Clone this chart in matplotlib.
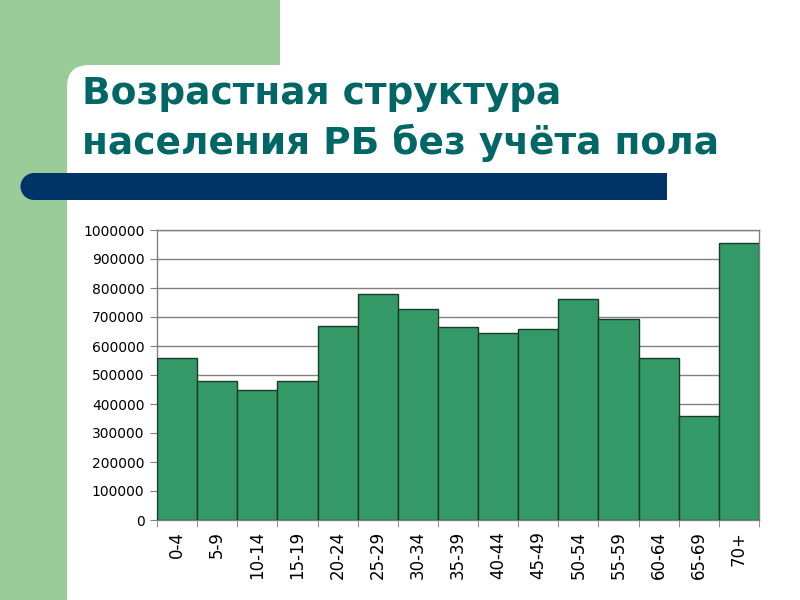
import numpy as np
import matplotlib
matplotlib.use('Agg')
import matplotlib.pyplot as plt
from matplotlib.patches import Rectangle, Circle, FancyBboxPatch

# Data
ages = ['0-4', '5-9', '10-14', '15-19', '20-24', '25-29', '30-34', '35-39',
        '40-44', '45-49', '50-54', '55-59', '60-64', '65-69', '70+']
population = [560000, 478000, 447000, 478000, 669000, 780000, 727000, 665000,
              645000, 659000, 761000, 694000, 559000, 358000, 955000]
yticks = np.arange(0, 1000001, 100000)
title_lines = ['Возрастная структура', 'населения РБ без учёта пола']

green_bg = '#99cc99'
navy = '#003366'
teal = '#006666'
bar_col = '#339966'

fig = plt.figure(figsize=(8, 6), dpi=100)

# slide background, pixel coordinates
bg = fig.add_axes([0, 0, 1, 1], zorder=0)
bg.set_xlim(0, 800)
bg.set_ylim(600, 0)
bg.axis('off')
bg.add_patch(Rectangle((0, 0), 280, 100, color=green_bg, lw=0))
bg.add_patch(Rectangle((0, 0), 67, 600, color=green_bg, lw=0))
bg.add_patch(FancyBboxPatch((67, 65), 900, 700, boxstyle='round,pad=0,rounding_size=22',
                            color='white', lw=0))
# navy bar with rounded left end
bg.add_patch(Rectangle((34, 173), 633, 27, color=navy, lw=0))
bg.add_patch(Circle((34, 186.5), 13.5, color=navy, lw=0))

# title, one line at a time
for line, base in zip(title_lines, [104, 154]):
    bg.text(82, base, line, fontsize=27, fontweight='bold', color=teal,
            family='DejaVu Sans', va='baseline', ha='left')

# chart
ax = fig.add_axes([157/800, 1 - 520/600, 602/800, 290/600], zorder=1)
x = np.arange(len(ages))
ax.bar(x, population, width=1.0, color=bar_col, edgecolor='#1c3a28', linewidth=1, zorder=3)
ax.set_xlim(-0.5, len(ages) - 0.5)
ax.set_ylim(0, 1000000)
ax.set_yticks(yticks)
ax.set_yticklabels([str(v) for v in yticks], fontsize=10)
ax.yaxis.grid(True, color='#808080', linewidth=1)
ax.set_axisbelow(True)

ax.set_xticks(x)
ax.set_xticklabels(ages, rotation=90, fontsize=12, va='top')
ax.set_xticks(np.arange(-0.5, len(ages)), minor=True)
ax.tick_params(axis='x', which='major', length=0, pad=8)
ax.tick_params(axis='x', which='minor', length=5, color='#808080', direction='out')
ax.tick_params(axis='y', length=5, color='#808080', direction='out', pad=4)

for s in ax.spines.values():
    s.set_color('#808080')
    s.set_linewidth(1)

fig.savefig('out.png', dpi=100)
